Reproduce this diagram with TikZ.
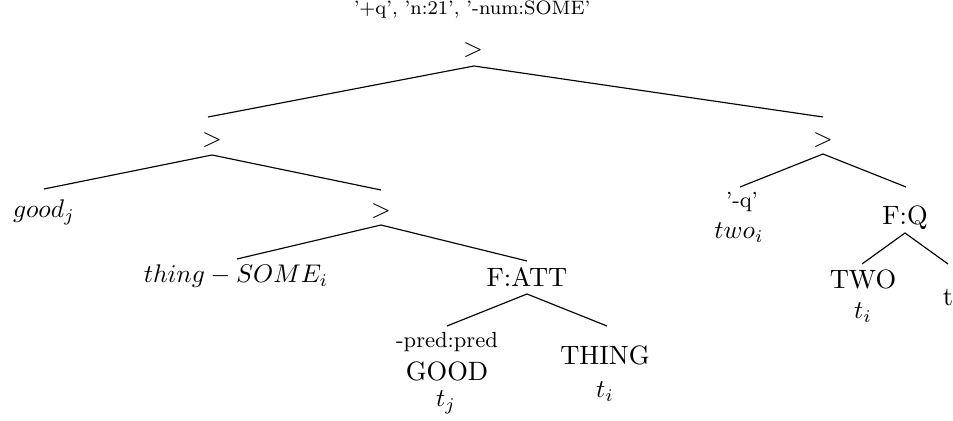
\documentclass[tikz,border=0pt]{standalone}
\begin{document}
\begin{tikzpicture}[x=0.392pt,y=-0.392pt,
  tn/.style={inner sep=0pt,font=\fontsize{10.4}{12}\selectfont},
  sm/.style={inner sep=0pt,font=\fontsize{8.6}{10}\selectfont},
  rl/.style={inner sep=0pt,font=\fontsize{7.6}{9}\selectfont},
  edge/.style={line width=0.45pt}]
\useasboundingbox (0,0) rectangle (953,421);
% root
\node[rl] (rootlbl) at (472,10) {'+q', 'n:21', '-num:SOME'};
\node[tn] (root) at (473,50) {$>$};
\coordinate (root-b) at (474,66);
% left >
\coordinate (gtL-t) at (208,117);
\node[tn] (gtL) at (212,140) {$>$};
\coordinate (gtL-b) at (212,155);
% good_j
\coordinate (goodj-t) at (44,189);
\node[tn] (goodj) at (44,212) {$good_j$};
% mid >
\coordinate (gtM-t) at (381,190);
\node[tn] (gtM) at (381,211) {$>$};
\coordinate (gtM-b) at (381,225);
% thing-SOME
\coordinate (thingS-t) at (237,259);
\node[tn] (thingS) at (236,276) {$thing-SOME_i$};
% F:ATT
\coordinate (fatt-t) at (527,261);
\node[tn] (fatt) at (527,277) {F:ATT};
\coordinate (fatt-b) at (527,294);
% GOOD
\coordinate (good-t) at (447,326);
\node[sm] (pred) at (447,342) {-pred:pred};
\node[tn] (good) at (447,371) {GOOD};
\node[tn] (tj) at (446,402) {$t_j$};
% THING
\coordinate (thingN-t) at (607,326);
\node[tn] (thingN) at (605,355) {THING};
\node[tn] (ti1) at (605,392) {$t_i$};
% right >
\coordinate (gtR-t) at (823,117);
\node[tn] (gtR) at (823,140) {$>$};
\coordinate (gtR-b) at (823,154);
% '-q' two_i
\coordinate (q-t) at (740,187);
\node[sm] (q) at (742,202) {'-q'};
\node[tn] (two) at (739,233) {$two_i$};
% F:Q
\coordinate (fq-t) at (906,187);
\node[tn] (fq) at (905,218) {F:Q};
\coordinate (fq-b) at (905,233);
% TWO
\coordinate (TWO-t) at (862,264);
\node[tn] (TWO) at (863,279) {TWO};
\node[tn] (ti2) at (863,313) {$t_i$};
% t
\coordinate (tt-t) at (948,264);
\node[tn] (tt) at (948,297) {t};
% edges
\draw[edge] (gtL-t) -- (root-b) -- (gtR-t);
\draw[edge] (goodj-t) -- (gtL-b) -- (gtM-t);
\draw[edge] (thingS-t) -- (gtM-b) -- (fatt-t);
\draw[edge] (good-t) -- (fatt-b) -- (thingN-t);
\draw[edge] (q-t) -- (gtR-b) -- (fq-t);
\draw[edge] (TWO-t) -- (fq-b) -- (tt-t);
\end{tikzpicture}
\end{document}
